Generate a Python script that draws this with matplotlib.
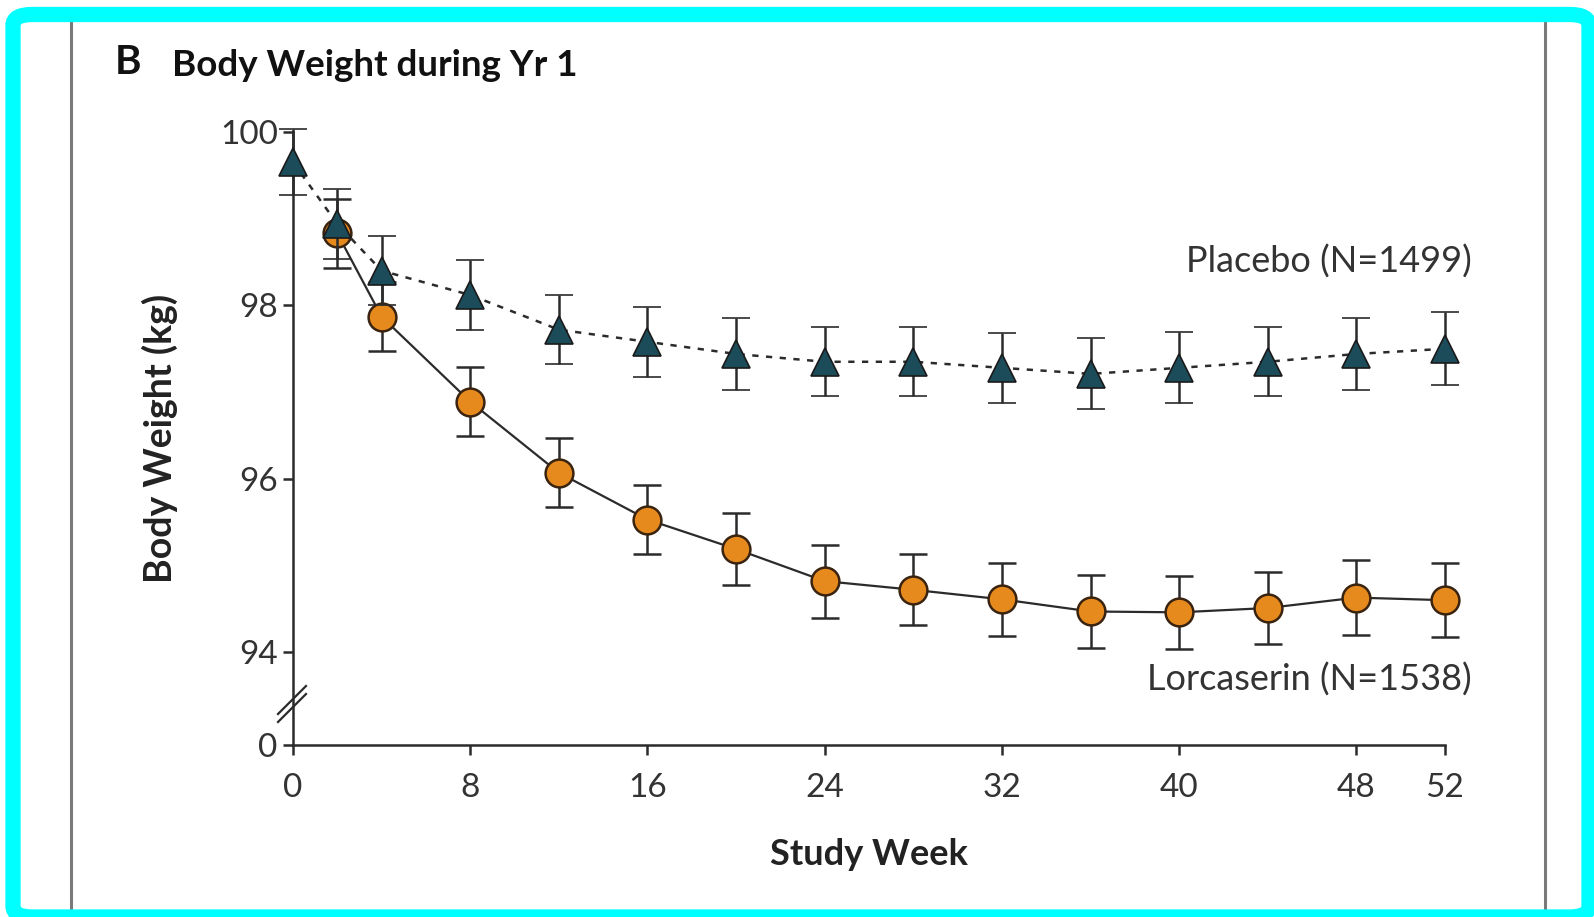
import matplotlib
matplotlib.use("Agg")
import matplotlib.pyplot as plt
from matplotlib.patches import FancyBboxPatch
from matplotlib.lines import Line2D

plt.rcParams['font.family'] = ['Lato', 'DejaVu Sans']

# data
placebo_weeks = [0, 2, 4, 8, 12, 16, 20, 24, 28, 32, 36, 40, 44, 48, 52]
placebo_kg = [99.65, 98.94, 98.40, 98.12, 97.72, 97.58, 97.44, 97.35, 97.35,
              97.28, 97.21, 97.28, 97.35, 97.44, 97.50]
placebo_se = [0.38, 0.40, 0.40, 0.40, 0.40, 0.40, 0.41, 0.40, 0.40,
              0.40, 0.41, 0.41, 0.40, 0.42, 0.42]

lorc_weeks = [2, 4, 8, 12, 16, 20, 24, 28, 32, 36, 40, 44, 48, 52]
lorc_kg = [98.83, 97.87, 96.89, 96.07, 95.53, 95.19, 94.82, 94.72, 94.61,
           94.47, 94.46, 94.51, 94.63, 94.60]
lorc_se = [0.40, 0.40, 0.40, 0.40, 0.40, 0.41, 0.42, 0.41, 0.42,
           0.42, 0.42, 0.42, 0.43, 0.43]

xticks = [0, 8, 16, 24, 32, 40, 48, 52]
ytick_vals = [94, 96, 98, 100]
y_zero_pos = 92.93  # where the broken axis shows "0"

W, H = 1594, 917
fig = plt.figure(figsize=(W / 100, H / 100), dpi=100)
fig.patch.set_facecolor('white')


def fx(px):
    return px / W


def fy(py):
    return 1 - py / H


ax = fig.add_axes([fx(293), fy(745), fx(1445) - fx(293), fy(132) - fy(745)])

ink = '#2b2b2b'
ax.errorbar(lorc_weeks, lorc_kg, yerr=lorc_se, color=ink, lw=1.6,
            marker='o', ms=20, mfc='#e68a1e', mec='#3a2410', mew=1.8,
            ecolor=ink, elinewidth=1.8, capsize=10, capthick=1.8,
            clip_on=False, zorder=3)
ax.errorbar(placebo_weeks, placebo_kg, yerr=placebo_se, color=ink, lw=1.8,
            ls=(0, (2.5, 3)), marker='^', ms=20, mfc='#1c4b5a', mec='#1a1a1a',
            mew=1.2, ecolor=ink, elinewidth=1.8, capsize=10, capthick=1.8,
            clip_on=False, zorder=4)

ax.set_xlim(0, 52)
ax.set_ylim(y_zero_pos, 100)
ax.set_xticks(xticks)
ax.set_yticks([y_zero_pos] + ytick_vals)
ax.set_yticklabels(['0'] + [str(v) for v in ytick_vals])

for s in ['top', 'right']:
    ax.spines[s].set_visible(False)
for s in ['left', 'bottom']:
    ax.spines[s].set_color(ink)
    ax.spines[s].set_linewidth(1.8)
ax.tick_params(direction='out', length=7, width=1.8, color=ink,
               labelsize=24, labelcolor='#333333')
ax.tick_params(axis='x', pad=13)
ax.tick_params(axis='y', pad=4)

ax.set_xlabel('Study Week', fontsize=26, fontweight='bold', color='#222222')
ax.xaxis.set_label_coords(0.5, -0.152)
ax.set_ylabel('Body Weight (kg)', fontsize=27, fontweight='bold', color='#222222')
ax.yaxis.set_label_coords(-0.10, 0.5)

ax.text(53.2, 98.5, 'Placebo (N=1499)', ha='right', va='center',
        fontsize=26, color='#333333')
ax.text(53.2, 93.69, 'Lorcaserin (N=1538)', ha='right', va='center',
        fontsize=26, color='#333333')

# axis break marks
for off in (0, 8):
    fig.add_artist(Line2D([fx(278), fx(306)], [fy(722 - off), fy(694 - off)],
                          color=ink, lw=1.6))

# title
fig.text(fx(115), fy(63), 'B', fontsize=29, fontweight='bold', color='#111111',
         va='center')
fig.text(fx(172), fy(65), 'Body Weight during Yr 1', fontsize=26.5,
         fontweight='bold', color='#111111', va='center')

# panel rules
for xp in (71, 1545):
    fig.add_artist(Line2D([fx(xp), fx(xp)], [fy(22), fy(910)], color='#7a7a7a', lw=2.2))

# cyan frame
frame = FancyBboxPatch((fx(13), fy(917)), fx(1589) - fx(13), fy(14.5) - fy(917),
                       boxstyle='round,pad=0,rounding_size=0.012',
                       transform=fig.transFigure, fill=False,
                       edgecolor='#00ffff', lw=11, zorder=10)
fig.add_artist(frame)

fig.savefig('out.png', dpi=100)
